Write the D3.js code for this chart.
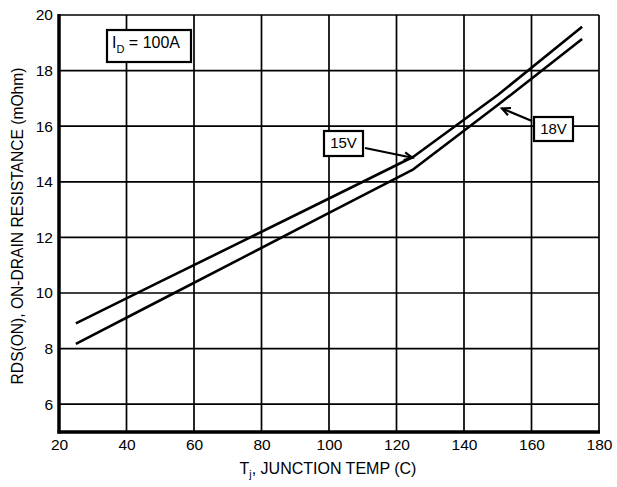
<!DOCTYPE html>
<html>
<head>
<meta charset="utf-8">
<script src="https://cdn.jsdelivr.net/npm/d3@7"></script>
<style>
  html, body { margin: 0; padding: 0; background: #fff; }
  svg { display: block; font-family: "Liberation Sans", Arial, sans-serif; }
</style>
</head>
<body>
<svg id="chart" width="617" height="487"></svg>
<script>
// Junction temperature (°C) sample points
const temps = [25, 50, 75, 100, 125, 150, 175];
// On-resistance (mOhm) at ID = 100A for each gate drive
const rds15V = [8.91, 10.41, 11.90, 13.40, 14.90, 17.12, 19.58];
const rds18V = [8.17, 9.74, 11.31, 12.88, 14.45, 16.76, 19.14];
// Axis ticks
const xTicks = [20, 40, 60, 80, 100, 120, 140, 160, 180];
const yTicks = [6, 8, 10, 12, 14, 16, 18, 20];

(function draw() {
  const svg = d3.select("#chart");
  const mLeft = 59, mRight = 599, mTop = 15, mBottom = 432;

  const x = d3.scaleLinear().domain([20, 180]).range([mLeft, mRight]);
  const y = d3.scaleLinear().domain([5, 20]).range([mBottom, mTop]);

  // grid
  const grid = svg.append("g").attr("stroke", "#000").attr("stroke-width", 1.7);
  grid.selectAll("line.v").data(xTicks.slice(1)).join("line").attr("class", "v")
    .attr("x1", d => x(d)).attr("x2", d => x(d))
    .attr("y1", mTop).attr("y2", mBottom);
  grid.selectAll("line.h").data(yTicks).join("line").attr("class", "h")
    .attr("x1", mLeft).attr("x2", mRight)
    .attr("y1", d => y(d)).attr("y2", d => y(d));

  // axes
  const xAxis = d3.axisBottom(x).tickValues(xTicks).tickSize(0).tickPadding(7)
    .tickFormat(d3.format("d"));
  const gx = svg.append("g").attr("transform", `translate(0,${mBottom})`).call(xAxis);
  gx.select(".domain").remove();
  gx.selectAll("text").attr("font-size", 15.5).attr("fill", "#000")
    .attr("font-family", "Liberation Sans, Arial, sans-serif");

  const yAxis = d3.axisLeft(y).tickValues(yTicks).tickSize(0).tickPadding(6)
    .tickFormat(d3.format("d"));
  const gy = svg.append("g").attr("transform", `translate(${mLeft},0)`).call(yAxis);
  gy.select(".domain").remove();
  gy.selectAll("text").attr("font-size", 15.5).attr("fill", "#000")
    .attr("font-family", "Liberation Sans, Arial, sans-serif");

  // heavy left and bottom frame
  svg.append("line").attr("x1", mLeft).attr("x2", mLeft).attr("y1", mTop - 1).attr("y2", mBottom + 1.5)
    .attr("stroke", "#000").attr("stroke-width", 3.5);
  svg.append("line").attr("x1", mLeft - 1.5).attr("x2", mRight + 1).attr("y1", mBottom).attr("y2", mBottom)
    .attr("stroke", "#000").attr("stroke-width", 3.5);

  // curves
  const line = d3.line().x(d => x(d[0])).y(d => y(d[1]));
  [rds15V, rds18V].forEach(vals => {
    svg.append("path")
      .datum(temps.map((t, i) => [t, vals[i]]))
      .attr("d", line)
      .attr("fill", "none").attr("stroke", "#000").attr("stroke-width", 2.6)
      .attr("stroke-linejoin", "round");
  });

  // boxed labels
  function box(x0, y0, w, h) {
    svg.append("rect").attr("x", x0).attr("y", y0).attr("width", w).attr("height", h)
      .attr("fill", "#fff").attr("stroke", "#000").attr("stroke-width", 2.2);
  }

  box(107, 30, 84, 32);
  const idText = svg.append("text").attr("x", 112).attr("y", 48).attr("font-size", 16);
  idText.append("tspan").text("I");
  idText.append("tspan").attr("font-size", 11).attr("dy", 5).text("D");
  idText.append("tspan").attr("dy", -5).text(" = 100A");

  // arrow with open V head
  function arrow(x1, y1, x2, y2) {
    const ang = Math.atan2(y2 - y1, x2 - x1);
    const len = 9, spread = 0.45;
    svg.append("line").attr("x1", x1).attr("y1", y1).attr("x2", x2).attr("y2", y2)
      .attr("stroke", "#000").attr("stroke-width", 2.2);
    const p = [
      [x2 - len * Math.cos(ang - spread), y2 - len * Math.sin(ang - spread)],
      [x2, y2],
      [x2 - len * Math.cos(ang + spread), y2 - len * Math.sin(ang + spread)]
    ];
    svg.append("path").attr("d", d3.line()(p)).attr("fill", "none")
      .attr("stroke", "#000").attr("stroke-width", 2.2).attr("stroke-linejoin", "miter");
  }

  // 15V callout pointing at the upper curve
  box(324, 131, 39, 25);
  svg.append("text").attr("x", 343.5).attr("y", 147.5).attr("text-anchor", "middle")
    .attr("font-size", 15).text("15V");
  arrow(365, 148, x(125) - 1, y(14.9) + 1);

  // 18V callout pointing at the lower curve
  box(534, 117, 39, 24);
  svg.append("text").attr("x", 553.5).attr("y", 134).attr("text-anchor", "middle")
    .attr("font-size", 15).text("18V");
  arrow(532, 121, 502, 108.5);

  // axis titles
  const xt = svg.append("text").attr("x", 328).attr("y", 474).attr("text-anchor", "middle")
    .attr("font-size", 16);
  xt.append("tspan").text("T");
  xt.append("tspan").attr("font-size", 10.5).attr("dy", 4).text("j");
  xt.append("tspan").attr("dy", -4).text(", JUNCTION TEMP (C)");

  svg.append("text")
    .attr("transform", `translate(23,226) rotate(-90)`)
    .attr("text-anchor", "middle").attr("font-size", 15.6)
    .text("RDS(ON), ON-DRAIN RESISTANCE (mOhm)");
})();
</script>
</body>
</html>
